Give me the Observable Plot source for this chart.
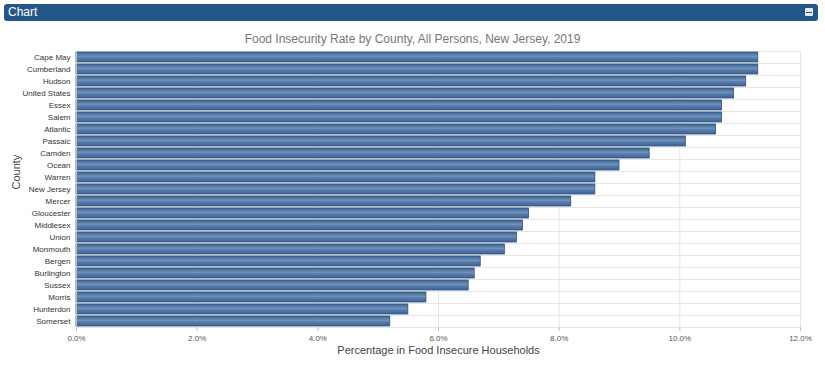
<!DOCTYPE html>
<html>
<head>
<meta charset="utf-8">
<script src="https://cdn.jsdelivr.net/npm/d3@7"></script>
<script src="https://cdn.jsdelivr.net/npm/@observablehq/plot@0.6"></script>
<style>
  body { margin: 0; background: #fff; font-family: "Liberation Sans", Arial, sans-serif; }
  #wrap { position: relative; width: 825px; height: 366px; overflow: hidden; }
  #header { position: absolute; left: 4px; top: 4px; width: 814px; height: 17px; background: #24568a; border-radius: 3px; box-sizing: border-box; }
  #header span { position: absolute; left: 4px; top: 1px; color: #fff; font-size: 12px; line-height: 15px; }
  #header i { position: absolute; right: 5px; top: 4px; width: 8px; height: 8px; background: #e8e8e8; border-radius: 1px; }
  #header i::after { content: ""; position: absolute; left: 1px; right: 1px; top: 3.5px; height: 1px; background: #24568a; }
  #title { position: absolute; left: 0; width: 825px; top: 32px; text-align: center; color: #777; font-size: 12px; }
  #chart { position: absolute; left: 0; top: 46px; }
</style>
</head>
<body>
<div id="wrap">
  <div id="header"><span>Chart</span><i></i></div>
  <div id="title">Food Insecurity Rate by County, All Persons, New Jersey, 2019</div>
  <div id="chart"></div>
</div>
<script>
const counties = ["Cape May","Cumberland","Hudson","United States","Essex","Salem","Atlantic","Passaic","Camden","Ocean","Warren","New Jersey","Mercer","Gloucester","Middlesex","Union","Monmouth","Bergen","Burlington","Sussex","Morris","Hunterdon","Somerset"];
const rates = [11.3,11.3,11.1,10.9,10.7,10.7,10.6,10.1,9.5,9.0,8.6,8.6,8.2,7.5,7.4,7.3,7.1,6.7,6.6,6.5,5.8,5.5,5.2];
const xTicks = [0,2,4,6,8,10,12];

const data = counties.map((c, i) => ({county: c, rate: rates[i]}));

const chart = Plot.plot({
  width: 825,
  height: 320,
  marginTop: 5,
  marginBottom: 39,
  marginLeft: 76,
  marginRight: 25,
  style: {fontFamily: "Liberation Sans, Arial, sans-serif", fontSize: "8px", color: "#555", background: "transparent"},
  x: {domain: [0, 12], ticks: xTicks, tickFormat: d => d.toFixed(1) + "%", label: null},
  y: {domain: counties, paddingInner: 0.16, paddingOuter: 0.08, label: null},
  marks: [
    Plot.gridX(xTicks, {stroke: "#e6e6e6", strokeOpacity: 1}),
    Plot.ruleY(counties, {y: d => d, dy: 6, stroke: "#e6e6e6"}),
    Plot.ruleY(counties.slice(0, 1), {y: d => d, dy: -6, stroke: "#e6e6e6"}),
    Plot.barX(data, {x: "rate", y: "county", fill: "url(#barGrad)", stroke: "#2d5580", strokeWidth: 0.8}),
    Plot.axisX(xTicks, {tickFormat: d => d.toFixed(1) + "%", stroke: "#c0c0c0", tickSize: 4, tickPadding: 4, fill: "#555", fontSize: 8, label: null}),
    Plot.axisY({tickSize: 0, tickPadding: 6, fill: "#333", fontSize: 8, label: null}),
    Plot.ruleX([0], {stroke: "#c0c0c0"}),
    Plot.ruleY([0], {frameAnchor: "bottom", stroke: "#c0c0c0"}),
    Plot.text(["Percentage in Food Insecure Households"], {frameAnchor: "bottom", dy: 26, fontSize: 11, fill: "#444"}),
    Plot.text(["County"], {frameAnchor: "left", dx: -60, rotate: -90, fontSize: 11, fill: "#444"})
  ]
});

const ns = "http://www.w3.org/2000/svg";
const defs = document.createElementNS(ns, "defs");
defs.innerHTML = `<linearGradient id="barGrad" x1="0" y1="0" x2="0" y2="1">
  <stop offset="0" stop-color="#3b6593"/>
  <stop offset="0.45" stop-color="#6f91bb"/>
  <stop offset="0.55" stop-color="#5d81ad"/>
  <stop offset="1" stop-color="#3a6291"/>
</linearGradient>`;
chart.insertBefore(defs, chart.firstChild);
document.getElementById("chart").appendChild(chart);
</script>
</body>
</html>
